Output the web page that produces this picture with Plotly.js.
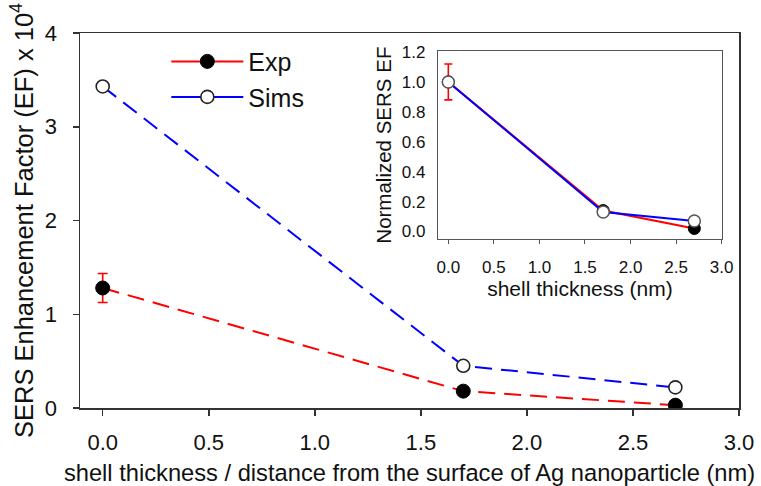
<!DOCTYPE html>
<html>
<head>
<meta charset="utf-8">
<script src="https://cdn.plot.ly/plotly-3.0.1.min.js"></script>
<style>html,body{margin:0;padding:0;background:#fff;}#chart{width:761px;height:486px;}</style>
</head>
<body>
<div id="chart"></div>
<script>
// Main chart data (EF x 10^4)
const thickness = [0.0, 1.7, 2.7];
const expEF = [1.28, 0.18, 0.03];
const expErr = [0.155, null, null];
const simsEF = [3.43, 0.45, 0.22];
// Inset data (normalized)
const expNorm = [1.0, 0.14, 0.02];
const expNormErr = [0.12, null, null];
const simsNorm = [1.0, 0.13, 0.07];
const xTicks = [0, 0.5, 1, 1.5, 2, 2.5, 3];
const xTickText = ['0.0', '0.5', '1.0', '1.5', '2.0', '2.5', '3.0'];
const yTicks = [0, 1, 2, 3, 4];
const yTickText = ['0', '1', '2', '3', '4'];
const insetYTicks = [0, 0.2, 0.4, 0.6, 0.8, 1.0, 1.2];
const insetYTickText = ['0.0', '0.2', '0.4', '0.6', '0.8', '1.0', '1.2'];

const FONT = 'Liberation Sans, Arial, sans-serif';
const RED = '#ff0000', BLUE = '#0000ff', EDGE = '#222222';

const traces = [
  // main: Exp
  {x: thickness, y: expEF, xaxis: 'x', yaxis: 'y', mode: 'lines+markers', showlegend: false,
   line: {color: RED, width: 2, dash: '17px,9px'},
   marker: {color: '#000', size: 14, line: {color: '#000', width: 1}},
   error_y: {type: 'data', array: expErr, visible: true, color: RED, thickness: 1.6, width: 5}},
  // main: Sims
  {x: thickness, y: simsEF, xaxis: 'x', yaxis: 'y', mode: 'lines+markers', showlegend: false,
   line: {color: BLUE, width: 2, dash: '17px,9px'},
   marker: {color: '#fff', size: 13, line: {color: EDGE, width: 1.6}}},
  // inset: Exp
  {x: thickness, y: expNorm, xaxis: 'x2', yaxis: 'y2', mode: 'lines+markers', showlegend: false,
   line: {color: RED, width: 2},
   marker: {color: '#000', size: 12, line: {color: '#000', width: 1}},
   error_y: {type: 'data', array: expNormErr, visible: true, color: RED, thickness: 1.6, width: 4}},
  // inset: Sims
  {x: thickness, y: simsNorm, xaxis: 'x2', yaxis: 'y2', mode: 'lines+markers', showlegend: false,
   line: {color: BLUE, width: 2},
   marker: {color: '#fff', size: 12, line: {color: '#555', width: 1.5}}},
  // legend entries (solid lines)
  {x: [null], y: [null], xaxis: 'x', yaxis: 'y', name: 'Exp', mode: 'lines+markers',
   line: {color: RED, width: 2}, marker: {color: '#000', size: 14, line: {color: '#000', width: 1}}},
  {x: [null], y: [null], xaxis: 'x', yaxis: 'y', name: 'Sims', mode: 'lines+markers',
   line: {color: BLUE, width: 2}, marker: {color: '#fff', size: 13, line: {color: EDGE, width: 1.6}}}
];

const layout = {
  width: 761, height: 486,
  margin: {l: 80, r: 22, t: 33, b: 78},
  paper_bgcolor: '#fff', plot_bgcolor: '#fff',
  font: {family: FONT, color: '#111'},
  showlegend: true,
  legend: {x: 0.131, y: 0.985, xanchor: 'left', yanchor: 'top', bgcolor: 'rgba(0,0,0,0)',
           font: {size: 25, family: FONT, color: '#111'}, tracegroupgap: 0, itemwidth: 72},
  xaxis: {domain: [0, 1], range: [-0.107, 3.0], tickvals: xTicks, ticktext: xTickText,
          showline: true, linecolor: '#333', linewidth: 1.5, mirror: true, showgrid: false, zeroline: false,
          ticks: 'outside', ticklen: 6, tickwidth: 1.5, tickcolor: '#333', ticklabelstandoff: 8,
          tickfont: {size: 22, family: FONT, color: '#111'},
          title: {text: 'shell thickness / distance from the surface of Ag nanoparticle (nm)',
                  font: {size: 23.7, family: FONT, color: '#111'}, standoff: 12}},
  yaxis: {domain: [0, 1], range: [0, 4], tickvals: yTicks, ticktext: yTickText,
          showline: true, linecolor: '#333', linewidth: 1.5, mirror: true, showgrid: false, zeroline: false,
          ticks: 'outside', ticklen: 6, tickwidth: 1.5, tickcolor: '#333', ticklabelstandoff: 11,
          tickfont: {size: 22, family: FONT, color: '#111'},
          title: {text: 'SERS Enhancement Factor (EF) x 10<sup>4</sup>',
                  font: {size: 25.5, family: FONT, color: '#111'}, standoff: 4}},
  xaxis2: {domain: [0.5437, 0.9737], anchor: 'y2', range: [-0.11, 3.0], tickvals: xTicks, ticktext: xTickText,
           showline: true, linecolor: '#555', linewidth: 1.5, mirror: true, showgrid: false, zeroline: false,
           ticks: 'outside', ticklen: 4, tickwidth: 1, tickcolor: '#555', ticklabelstandoff: 8,
           tickfont: {size: 17, family: FONT, color: '#111'},
           title: {text: 'shell thickness (nm)', font: {size: 21, family: FONT, color: '#111'}, standoff: 3}},
  yaxis2: {domain: [0.4507, 0.9513], anchor: 'x2', range: [-0.05, 1.205], tickvals: insetYTicks, ticktext: insetYTickText,
           showline: true, linecolor: '#555', linewidth: 1.5, mirror: true, showgrid: false, zeroline: false,
           ticks: '', ticklabelstandoff: 8,
           tickfont: {size: 17, family: FONT, color: '#111'},
           title: {text: 'Normalized SERS EF', font: {size: 20.5, family: FONT, color: '#111'}, standoff: 4}}
};

Plotly.newPlot('chart', traces, layout, {displayModeBar: false, staticPlot: true});
</script>
</body>
</html>
